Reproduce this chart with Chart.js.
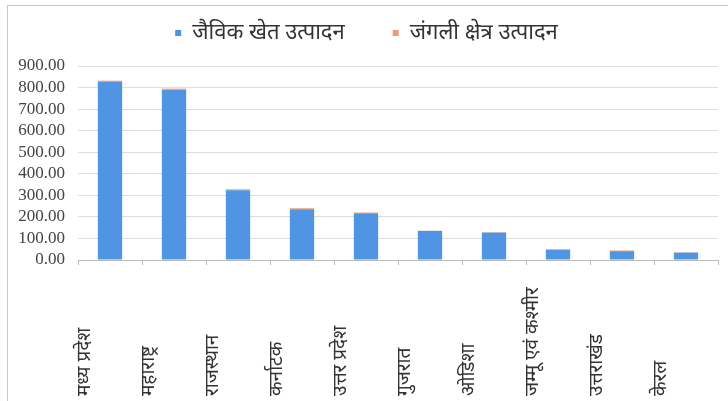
<!DOCTYPE html>
<html>
<head>
    <title>जैविक उत्पादन</title>
    <script src="https://cdn.jsdelivr.net/npm/chart.js"></script>
    <style>
        body { margin: 0; background: #fff; overflow: hidden; }
        #frame { position: absolute; left: 7px; top: 5px; width: 730px; height: 410px; border-left: 1px solid #c8c8c8; border-top: 1px solid #c8c8c8; }
        #wrap { position: absolute; left: 0; top: 0; width: 728px; height: 401px; }
    </style>
</head>
<body>
    <div id="frame"></div>
    <div id="wrap"><canvas id="chart" width="728" height="401"></canvas></div>

    <script>
        // State names (x axis)
        const states = ['मध्य प्रदेश', 'महाराष्ट्र', 'राजस्थान', 'कर्नाटक', 'उत्तर प्रदेश', 'गुजरात', 'ओडिशा', 'जम्मू एवं कश्मीर', 'उत्तराखंड', 'केरल'];
        // Series values
        const farmProduction = [826, 790, 324, 236, 217, 135, 127, 47, 41, 34];
        const wildProduction = [6, 5, 4, 4, 3, 1, 2, 3, 3, 2];
        const seriesNames = ['जैविक खेत उत्पादन', 'जंगली क्षेत्र उत्पादन'];

        const devFont = "'Noto Sans', 'Lohit Devanagari', sans-serif";

        // draw the rotated category labels, reading bottom to top
        const xLabels = {
            id: 'xLabels',
            afterDraw(chart) {
                const ctx = chart.ctx;
                const xs = chart.scales.x;
                ctx.save();
                ctx.font = '19px ' + devFont;
                ctx.fillStyle = '#333';
                ctx.textAlign = 'left';
                ctx.textBaseline = 'middle';
                states.forEach((s, i) => {
                    const x = xs.getPixelForTick(i) - 25;
                    ctx.save();
                    ctx.translate(x, 396);
                    ctx.rotate(-Math.PI / 2);
                    ctx.fillText(s, 0, 0);
                    ctx.restore();
                });
                ctx.restore();
            }
        };

        // keep the wide gap between legend items but not the tall legend box
        const legendHeight = {
            id: 'legendHeight',
            beforeInit(chart) {
                const fit = chart.legend.fit;
                chart.legend.fit = function () {
                    fit.call(this);
                    this.height = 92;
                };
            }
        };

        new Chart(document.getElementById('chart'), {
            type: 'bar',
            data: {
                labels: states,
                datasets: [
                    { label: seriesNames[0], data: farmProduction, backgroundColor: '#4f95e3', barPercentage: 0.38, categoryPercentage: 1 },
                    { label: seriesNames[1], data: wildProduction, backgroundColor: '#ee9a73', barPercentage: 0.38, categoryPercentage: 1 }
                ]
            },
            options: {
                responsive: false,
                animation: false,
                layout: { padding: { left: 15, right: 10, top: -26, bottom: 0 } },
                plugins: {
                    legend: {
                        labels: {
                            boxWidth: 6, boxHeight: 6, padding: 48,
                            color: '#333',
                            font: { size: 22, family: devFont }
                        }
                    },
                    tooltip: { enabled: false }
                },
                scales: {
                    x: {
                        stacked: true,
                        ticks: { display: false },
                        grid: { drawOnChartArea: false, drawTicks: true, tickLength: 5, color: '#bbb', offset: true },
                        border: { display: true, color: '#bbb' },
                        afterFit: s => { s.height = 141; }
                    },
                    y: {
                        stacked: true,
                        min: 0, max: 900,
                        ticks: {
                            stepSize: 100, padding: 13, color: '#444', autoSkip: false,
                            font: { size: 17, family: "'Liberation Serif', serif" },
                            callback: v => v.toFixed(2)
                        },
                        grid: { color: '#dedede', drawTicks: false },
                        border: { display: false },
                        afterFit: s => { s.width = 63; }
                    }
                }
            },
            plugins: [xLabels, legendHeight]
        });
    </script>
</body>
</html>
